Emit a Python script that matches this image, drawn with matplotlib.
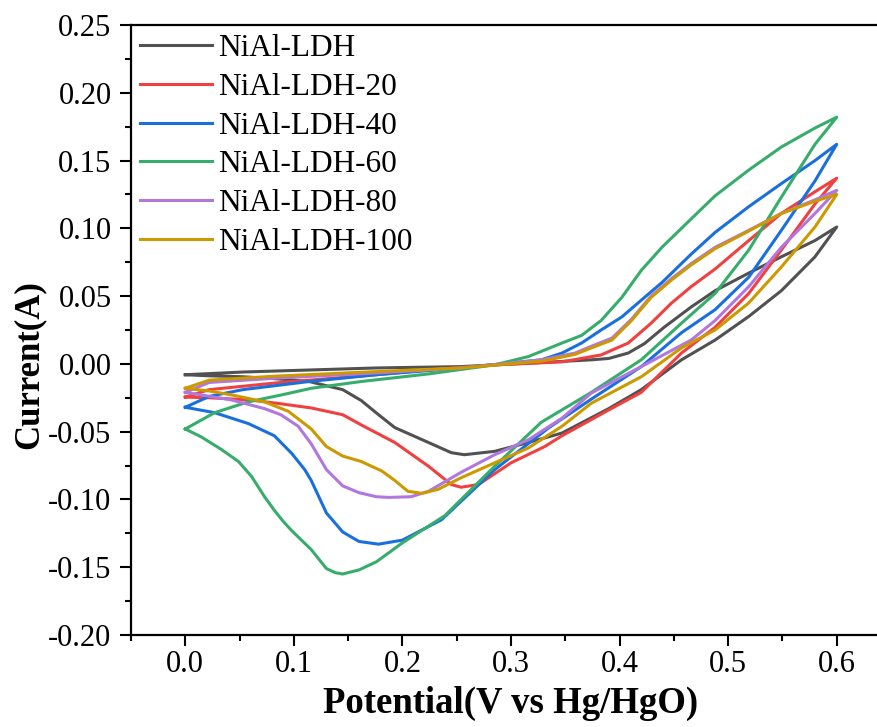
import matplotlib
matplotlib.use("Agg")
import matplotlib.pyplot as plt
from matplotlib.ticker import MultipleLocator, FormatStrFormatter

plt.rcParams['font.family'] = ['Liberation Serif', 'DejaVu Serif']
plt.rcParams['axes.unicode_minus'] = False

labels = ["NiAl-LDH", "NiAl-LDH-20", "NiAl-LDH-40", "NiAl-LDH-60", "NiAl-LDH-80", "NiAl-LDH-100"]
colors = ["#515151", "#F14040", "#1A6FDF", "#37AD6B", "#B177DE", "#CC9900"]

# NiAl-LDH
ldh_x = [0, 0.053, 0.176, 0.254, 0.328, 0.374, 0.39, 0.408, 0.423, 0.441, 0.466, 0.488, 0.519, 0.549, 0.58, 0.6,
         0.58, 0.549, 0.519, 0.488, 0.457, 0.42, 0.39, 0.347, 0.316, 0.285, 0.257, 0.245, 0.224, 0.193,
         0.178, 0.162, 0.145, 0.114, 0.084, 0.053, 0.022, 0]
ldh_y = [-0.008, -0.006, -0.003, -0.002, 0.001, 0.003, 0.004, 0.008, 0.015, 0.027, 0.042, 0.054, 0.067, 0.079, 0.091, 0.101,
         0.079, 0.054, 0.035, 0.0176, 0.003, -0.019, -0.033, -0.051, -0.058, -0.0645, -0.067, -0.0655, -0.058, -0.047,
         -0.0375, -0.027, -0.019, -0.013, -0.011, -0.0095, -0.0088, -0.008]

# NiAl-LDH-20
l20_x = [0, 0.022, 0.084, 0.176, 0.224, 0.285, 0.347, 0.383, 0.408, 0.429, 0.448, 0.466, 0.488, 0.519, 0.549, 0.58, 0.6,
         0.58, 0.549, 0.519, 0.488, 0.457, 0.42, 0.39, 0.347, 0.331, 0.30, 0.27, 0.254, 0.245, 0.224, 0.193,
         0.162, 0.145, 0.116, 0.084, 0.058, 0.022, 0]
l20_y = [-0.0245, -0.019, -0.014, -0.008, -0.0044, -0.0007, 0.0015, 0.0066, 0.0154, 0.030, 0.045, 0.057, 0.070, 0.091, 0.111, 0.127, 0.137,
         0.118, 0.084, 0.052, 0.027, 0.008, -0.021, -0.034, -0.053, -0.061, -0.073, -0.089, -0.091, -0.089, -0.0755, -0.058,
         -0.045, -0.0375, -0.0325, -0.029, -0.0265, -0.025, -0.0245]

# NiAl-LDH-40
l40_x = [0, 0.022, 0.053, 0.114, 0.176, 0.254, 0.328, 0.347, 0.365, 0.383, 0.402, 0.42, 0.439, 0.466, 0.488, 0.519, 0.549, 0.58, 0.6,
         0.58, 0.549, 0.519, 0.488, 0.457, 0.42, 0.374, 0.335, 0.285, 0.236, 0.2, 0.178, 0.16, 0.145, 0.130,
         0.116, 0.110, 0.098, 0.082, 0.058, 0.027, 0]
l40_y = [-0.032, -0.024, -0.019, -0.013, -0.008, -0.003, 0.003, 0.008, 0.0154, 0.025, 0.0346, 0.047, 0.060, 0.081, 0.097, 0.116, 0.133, 0.150, 0.162,
         0.135, 0.0985, 0.064, 0.040, 0.023, -0.002, -0.026, -0.047, -0.078, -0.115, -0.130, -0.133, -0.131, -0.124, -0.110,
         -0.086, -0.078, -0.066, -0.053, -0.044, -0.036, -0.032]

# NiAl-LDH-60
l60_x = [0, 0.027, 0.058, 0.088, 0.116, 0.162, 0.224, 0.285, 0.316, 0.347, 0.365, 0.383, 0.402, 0.42, 0.439, 0.466, 0.488, 0.519, 0.549, 0.58, 0.6,
         0.58, 0.549, 0.519, 0.488, 0.457, 0.42, 0.374, 0.328, 0.285, 0.239, 0.2, 0.176, 0.16, 0.145, 0.138, 0.130,
         0.116, 0.098, 0.090, 0.082, 0.073, 0.061, 0.049, 0.033, 0.015, 0]
l60_y = [-0.048, -0.036, -0.028, -0.023, -0.018, -0.013, -0.0074, -0.0007, 0.0054, 0.0154, 0.021, 0.032, 0.049, 0.069, 0.086, 0.107, 0.124, 0.143, 0.160, 0.174, 0.182,
         0.162, 0.123, 0.084, 0.052, 0.030, 0.003, -0.021, -0.043, -0.0755, -0.112, -0.132, -0.146, -0.152, -0.155, -0.154, -0.151,
         -0.137, -0.123, -0.116, -0.108, -0.098, -0.083, -0.072, -0.063, -0.054, -0.048]

# NiAl-LDH-80
l80_x = [0, 0.022, 0.084, 0.176, 0.254, 0.328, 0.359, 0.374, 0.393, 0.411, 0.429, 0.448, 0.466, 0.488, 0.519, 0.549, 0.58, 0.6,
         0.58, 0.549, 0.519, 0.488, 0.466, 0.42, 0.374, 0.347, 0.316, 0.285, 0.254, 0.224, 0.208, 0.187, 0.176, 0.16,
         0.145, 0.130, 0.116, 0.104, 0.088, 0.073, 0.042, 0]
l80_y = [-0.021, -0.0137, -0.0105, -0.0067, -0.003, 0.003, 0.008, 0.013, 0.019, 0.033, 0.050, 0.063, 0.074, 0.086, 0.0985, 0.111, 0.121, 0.128,
         0.111, 0.086, 0.057, 0.032, 0.0176, -0.002, -0.0215, -0.040, -0.056, -0.067, -0.080, -0.094, -0.098, -0.0985, -0.098, -0.095,
         -0.090, -0.078, -0.059, -0.046, -0.0375, -0.033, -0.0265, -0.021]

# NiAl-LDH-100
l100_x = [0, 0.022, 0.084, 0.176, 0.254, 0.328, 0.359, 0.374, 0.393, 0.411, 0.429, 0.448, 0.466, 0.488, 0.519, 0.549, 0.58, 0.6,
          0.58, 0.549, 0.519, 0.488, 0.457, 0.42, 0.374, 0.347, 0.316, 0.285, 0.254, 0.233, 0.218, 0.205, 0.193, 0.181,
          0.162, 0.145, 0.130, 0.116, 0.095, 0.073, 0.042, 0.022, 0]
l100_y = [-0.018, -0.012, -0.009, -0.0057, -0.003, 0.002, 0.007, 0.0118, 0.0176, 0.032, 0.049, 0.062, 0.073, 0.085, 0.098, 0.111, 0.120, 0.125,
          0.101, 0.0715, 0.045, 0.025, 0.0118, -0.0095, -0.029, -0.046, -0.062, -0.073, -0.084, -0.0925, -0.0955, -0.094, -0.086, -0.079,
          -0.072, -0.068, -0.061, -0.048, -0.035, -0.028, -0.0228, -0.020, -0.018]

series_x = [ldh_x, l20_x, l40_x, l60_x, l80_x, l100_x]
series_y = [ldh_y, l20_y, l40_y, l60_y, l80_y, l100_y]

fig = plt.figure(figsize=(8.77, 7.27), dpi=100)
ax = fig.add_axes([131/877, 92/727, (891-131)/877, 610/727])

for xs, ys, c, lab in zip(series_x, series_y, colors, labels):
    ax.plot(xs, ys, color=c, lw=2.2, label=lab, solid_joinstyle='round')

ax.set_xlim(-0.05, 0.65)
ax.set_ylim(-0.20, 0.25)
ax.set_xticks([0.0, 0.1, 0.2, 0.3, 0.4, 0.5, 0.6])
ax.xaxis.set_minor_locator(MultipleLocator(0.05))
ax.yaxis.set_major_locator(MultipleLocator(0.05))
ax.yaxis.set_minor_locator(MultipleLocator(0.025))
ax.xaxis.set_major_formatter(FormatStrFormatter('%.1f'))
ax.yaxis.set_major_formatter(FormatStrFormatter('%.2f'))

ax.tick_params(which='major', direction='out', length=8, width=1.5, labelsize=22, pad=6)
ax.tick_params(which='minor', direction='out', length=4.5, width=1.5)
ax.tick_params(axis='x', which='major', pad=3)
ax.tick_params(top=False, right=False, which='both')

for s in ['left', 'bottom', 'top', 'right']:
    ax.spines[s].set_linewidth(1.6)

ax.set_xlabel('Potential(V vs Hg/HgO)', fontsize=26.5, fontweight='bold', labelpad=5)
ax.set_ylabel('Current(A)', fontsize=25, fontweight='bold')
ax.yaxis.set_label_coords(-0.112, 0.443)

leg = ax.legend(loc='upper left', frameon=False, fontsize=22.5, handlelength=2.3,
                handletextpad=0.2, labelspacing=0.31, borderpad=0.2, borderaxespad=0.1)

fig.savefig('out.png', dpi=100, facecolor='white')
